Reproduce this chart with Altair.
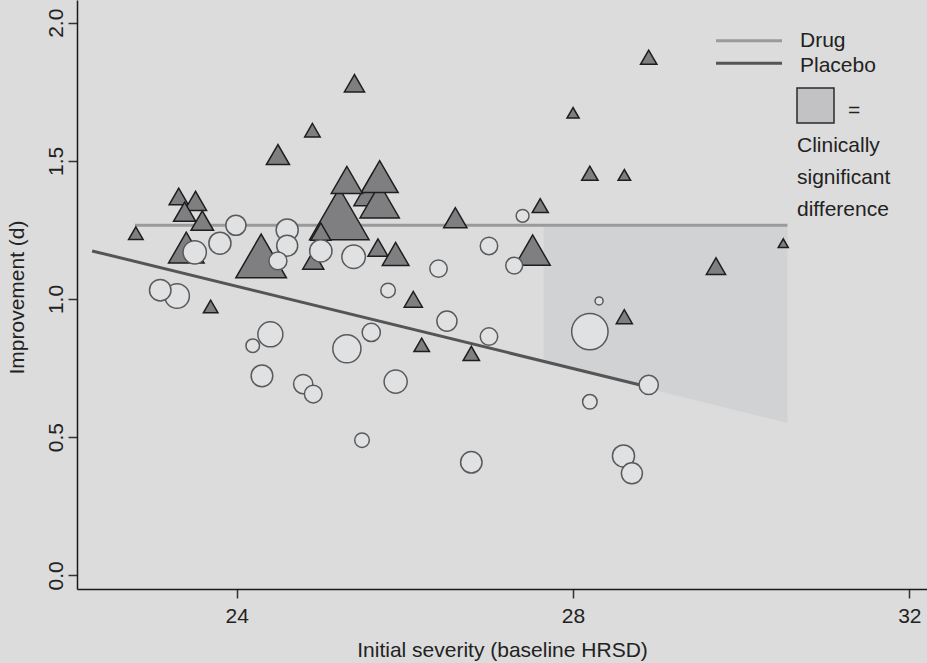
import altair as alt
import pandas as pd

# Study-level effect sizes: drug arms (triangles) and placebo arms (circles)
drug_severity = [25.40, 24.90, 24.49, 23.31, 23.51, 23.38, 23.59, 22.80, 25.31, 25.70,
                 25.61, 25.70, 25.22, 25.00, 24.91, 25.68, 25.89, 23.40, 24.29, 23.69,
                 26.10, 26.20, 26.79, 26.60, 27.52, 27.61, 28.00, 28.20, 28.61, 28.90,
                 29.70, 30.50, 28.61]
drug_improvement = [1.781, 1.611, 1.523, 1.371, 1.355, 1.316, 1.284, 1.238, 1.431, 1.443,
                    1.395, 1.355, 1.308, 1.244, 1.141, 1.186, 1.163, 1.186, 1.156, 0.973,
                    0.999, 0.834, 0.803, 1.294, 1.177, 1.338, 1.674, 1.455, 1.449, 1.875,
                    1.119, 1.202, 0.936]
drug_weight = [4.4, 2.6, 5.8, 4.0, 5.3, 5.3, 5.5, 2.3, 10.6, 14.8,
               14.4, 16.8, 38.4, 4.4, 4.8, 4.4, 7.7, 13.7, 27.8, 2.3,
               3.6, 2.6, 2.9, 5.9, 13.3, 2.8, 1.6, 2.9, 1.7, 2.9,
               4.0, 1.1, 2.8]
# drawing order (larger studies underneath)
drug_order = [12, 18, 10, 11, 9, 17, 24, 8, 0, 1, 2, 3, 4, 5, 6, 7, 13, 14, 15, 16,
              19, 20, 21, 22, 23, 25, 26, 27, 28, 29, 30, 31, 32]

placebo_severity = [23.09, 23.29, 23.50, 23.80, 23.99, 24.19, 24.40, 24.30, 24.49, 24.60,
                    24.60, 24.79, 24.91, 25.00, 25.31, 25.39, 25.49, 25.60, 25.80, 25.89,
                    26.40, 26.50, 26.79, 27.00, 27.00, 27.30, 27.40, 28.20, 28.31, 28.20,
                    28.60, 28.70, 28.90]
placebo_improvement = [1.032, 1.011, 1.169, 1.202, 1.267, 0.831, 0.872, 0.722, 1.138, 1.250,
                       1.193, 0.692, 0.656, 1.174, 0.820, 1.153, 0.489, 0.879, 1.031, 0.701,
                       1.110, 0.920, 0.409, 1.192, 0.864, 1.121, 1.301, 0.882, 0.993, 0.628,
                       0.432, 0.369, 0.689]
placebo_weight = [5.0, 6.6, 5.9, 5.3, 4.4, 2.0, 6.8, 5.1, 3.5, 5.3,
                  4.8, 4.0, 3.4, 5.4, 8.6, 6.0, 2.3, 3.6, 2.3, 5.8,
                  3.3, 4.4, 5.0, 3.3, 3.3, 3.1, 1.8, 14.4, 0.7, 2.3,
                  5.3, 4.8, 4.0]

# Fitted lines
drug_line_x = [22.79, 30.55]
drug_line_y = [1.267, 1.267]
placebo_line_x = [22.28, 28.80]
placebo_line_y = [1.174, 0.689]

# Region of clinically significant drug-placebo difference
region_x = [27.65, 30.55]
region_top = [1.267, 1.267]
region_bottom = [0.769, 0.551]

x_ticks = [24, 28, 32]
y_ticks = [0.0, 0.5, 1.0, 1.5, 2.0]

legend_lines = ["Drug", "Placebo"]
legend_note = ["Clinically", "significant", "difference"]

FONT = "Liberation Sans"
BG = "#dcdcdc"
INK = "#222222"

drug_df = pd.DataFrame({"severity": drug_severity, "improvement": drug_improvement,
                        "weight": drug_weight}).iloc[drug_order]
placebo_df = pd.DataFrame({"severity": placebo_severity, "improvement": placebo_improvement,
                           "weight": placebo_weight}).sort_values("weight", ascending=False,
                                                                  kind="stable")
drug_line_df = pd.DataFrame({"severity": drug_line_x, "improvement": drug_line_y})
placebo_line_df = pd.DataFrame({"severity": placebo_line_x, "improvement": placebo_line_y})
region_df = pd.DataFrame({"severity": region_x, "top": region_top, "bottom": region_bottom})

x_scale = alt.Scale(domain=[22.1, 32.21], nice=False, zero=False)
y_scale = alt.Scale(domain=[-0.0496, 2.0822], nice=False, zero=False)
size_scale = alt.Scale(type="linear", domain=[0, 10], range=[0, 920])

x_axis = alt.Axis(values=x_ticks, format="d", title="Initial severity (baseline HRSD)",
                  grid=False, labelFontSize=21, titleFontSize=21, labelPadding=7,
                  tickSize=9, titleY=67, titleBaseline="alphabetic",
                  titleFontWeight="normal")
y_axis = alt.Axis(values=y_ticks, format=".1f", title="Improvement (d)", grid=False,
                  labelFontSize=21, titleFontSize=21, labelAngle=270, labelAlign="center",
                  labelBaseline="alphabetic", labelPadding=6, tickSize=9,
                  titleAngle=270, titleX=-53.5, titleY=297, titleAlign="center",
                  titleBaseline="alphabetic", titleFontWeight="normal")

region = alt.Chart(region_df).mark_area(color="#d1d2d4", opacity=1).encode(
    x=alt.X("severity:Q", scale=x_scale, axis=x_axis),
    y=alt.Y("top:Q", scale=y_scale, axis=y_axis),
    y2="bottom:Q",
)

drug_line = alt.Chart(drug_line_df).mark_line(color="#9a9a9a", strokeWidth=3).encode(
    x=alt.X("severity:Q", scale=x_scale), y=alt.Y("improvement:Q", scale=y_scale)
)
placebo_line = alt.Chart(placebo_line_df).mark_line(color="#555555", strokeWidth=3).encode(
    x=alt.X("severity:Q", scale=x_scale), y=alt.Y("improvement:Q", scale=y_scale)
)

drug_pts = alt.Chart(drug_df).mark_point(
    shape="triangle-up", filled=True, fill="#7f7f82", stroke="#1e1e1e",
    strokeWidth=1.5, opacity=1,
).encode(
    x=alt.X("severity:Q", scale=x_scale),
    y=alt.Y("improvement:Q", scale=y_scale),
    size=alt.Size("weight:Q", scale=size_scale, legend=None),
)

placebo_pts = alt.Chart(placebo_df).mark_point(
    shape="circle", filled=True, fill="#e0e1e3", stroke="#5a5a5a",
    strokeWidth=1.5, opacity=1,
).encode(
    x=alt.X("severity:Q", scale=x_scale),
    y=alt.Y("improvement:Q", scale=y_scale),
    size=alt.Size("weight:Q", scale=size_scale, legend=None),
)


def key_text(label, x, y, baseline="alphabetic"):
    """One line of the hand-built key, placed in plot pixels."""
    return alt.Chart(alt.Data(values=[{"label": label}])).mark_text(
        align="left", baseline=baseline, font=FONT, fontSize=21, color=INK,
    ).encode(x=alt.value(x), y=alt.value(y), text="label:N")


def key_rule(color, y):
    return alt.Chart(alt.Data(values=[{"k": 0}])).mark_rule(
        color=color, strokeWidth=3).encode(
        x=alt.value(639), x2=alt.value(705), y=alt.value(y))


key_box = alt.Chart(alt.Data(values=[{"k": 0}])).mark_rect(
    fill="#c2c2c5", stroke="#2a2a2a", strokeWidth=1.5).encode(
    x=alt.value(720), x2=alt.value(757), y=alt.value(88), y2=alt.value(123))

key_layers = [
    key_rule("#9a9a9a", 40.7),
    key_rule("#555555", 63.3),
    key_text(legend_lines[0], 723, 46.7),
    key_text(legend_lines[1], 723, 72.3),
    key_box,
    key_text("=", 771, 111, baseline="middle"),
    key_text(legend_note[0], 720, 152.3),
    key_text(legend_note[1], 720, 184.3),
    key_text(legend_note[2], 720, 215.5),
]

chart = alt.layer(
    region, drug_line, placebo_line, drug_pts, placebo_pts, *key_layers,
).properties(
    width=850, height=589,
    autosize=alt.AutoSizeParams(type="none"),
    padding={"left": 77, "top": 0, "right": 0, "bottom": 74},
    background=BG,
).configure_view(stroke=None, fill=BG).configure_axis(
    labelFont=FONT, titleFont=FONT, labelColor=INK, titleColor=INK,
    domainColor="#1a1a1a", domainWidth=1.5, tickColor="#333333", tickWidth=1.5,
)

chart.save("out.html", embed_options={"renderer": "svg", "actions": False})
